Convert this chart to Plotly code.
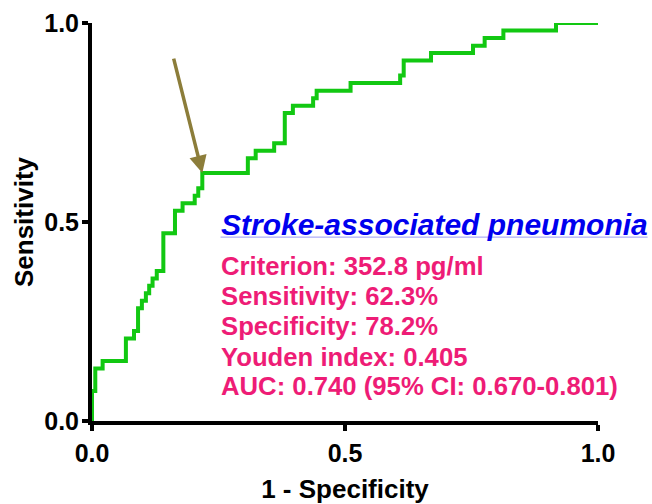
import plotly.graph_objects as go

# ROC curve vertices (1 - specificity, sensitivity), drawn as a step line
fpr = [0.0, 0.0, 0.0065, 0.021, 0.067, 0.083, 0.091, 0.0986, 0.1065, 0.113,
       0.1197, 0.128, 0.141, 0.164, 0.179, 0.203, 0.210, 0.218, 0.308, 0.3235,
       0.360, 0.381, 0.397, 0.437, 0.444, 0.511, 0.609, 0.616, 0.670, 0.753,
       0.776, 0.813, 0.917, 1.0]
tpr = [0.0, 0.0755, 0.132, 0.151, 0.2075, 0.226, 0.283, 0.302, 0.321, 0.340,
       0.358, 0.377, 0.472, 0.528, 0.547, 0.566, 0.585, 0.623, 0.660, 0.679,
       0.698, 0.774, 0.792, 0.811, 0.830, 0.849, 0.868, 0.906, 0.9245, 0.943,
       0.962, 0.981, 1.0, 1.0]

# optimal cut-off point
cut_specificity = 0.782
cut_sensitivity = 0.623

tick_vals = [0.0, 0.5, 1.0]
tick_text = ["0.0", "0.5", "1.0"]

title_text = "Stroke-associated pneumonia"
stat_lines = [
    "Criterion: 352.8 pg/ml",
    "Sensitivity: 62.3%",
    "Specificity: 78.2%",
    "Youden index: 0.405",
    "AUC: 0.740 (95% CI: 0.670-0.801)",
]

FONT = "Liberation Sans, Arial, sans-serif"
GREEN = "#12C812"
PINK = "#EE1C76"
BLUE = "#0000EE"
ARROW = "#8C7D3A"

fig = go.Figure()
fig.add_trace(go.Scatter(
    x=fpr, y=tpr, mode="lines",
    line=dict(color=GREEN, width=4, shape="hv"),
    hoverinfo="skip", showlegend=False,
))

axis_common = dict(
    range=[0, 1], tickvals=tick_vals, ticktext=tick_text,
    showgrid=False, zeroline=False, showline=True,
    linecolor="black", linewidth=4,
    ticks="outside", ticklen=6, tickwidth=4, tickcolor="black",
    tickfont=dict(family=FONT, size=25, color="black", weight="bold"),
    layer="below traces", fixedrange=True,
)

fig.update_layout(
    width=652, height=504,
    margin=dict(l=92, r=54, t=23, b=83, autoexpand=False),
    paper_bgcolor="white", plot_bgcolor="white",
    xaxis=dict(axis_common, ticklabelstandoff=1,
               title=dict(text="<b>1 - Specificity</b>", standoff=18,
                          font=dict(family=FONT, size=26, color="black"))),
    yaxis=dict(axis_common, ticklabelstandoff=-2,
               title=dict(text="<b>Sensitivity</b>", standoff=4,
                          font=dict(family=FONT, size=26, color="black"))),
)

# arrow pointing at the cut-off point
fig.add_annotation(
    x=1 - cut_specificity, y=cut_sensitivity, xref="x", yref="y",
    ax=-29, ay=-116, text="", showarrow=True,
    arrowhead=2, arrowwidth=3.5, arrowsize=1.0, arrowcolor=ARROW,
)

text_x = 0.2505
fig.add_annotation(
    x=text_x, y=0.493, xref="x", yref="y", xanchor="left", yanchor="middle",
    text="<b><i>" + title_text + "</i></b>", showarrow=False,
    font=dict(family=FONT, size=30, color=BLUE),
)
# thin underline below the heading
fig.add_shape(type="line", xref="paper", yref="paper",
              x0=0.254, x1=1.098, y0=0.462, y1=0.462,
              line=dict(color="rgba(70,70,235,0.55)", width=1))

line_y = [0.389, 0.314, 0.239, 0.162, 0.088]
for txt, yy in zip(stat_lines, line_y):
    fig.add_annotation(
        x=text_x, y=yy, xref="x", yref="y", xanchor="left", yanchor="middle",
        text="<b>" + txt + "</b>", showarrow=False,
        font=dict(family=FONT, size=25.7, color=PINK),
    )

fig.write_html("out.html")
